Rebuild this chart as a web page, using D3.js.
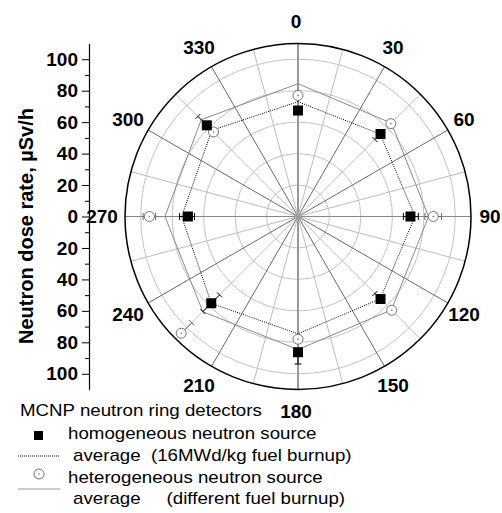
<!DOCTYPE html>
<html>
<head>
<meta charset="utf-8">
<script src="https://cdn.jsdelivr.net/npm/d3@7"></script>
<style>
  body { margin: 0; background: #fff; }
  svg { display: block; font-family: "Liberation Sans", Arial, sans-serif; }
  .pre { white-space: pre; }
</style>
</head>
<body>
<div class="chart"></div>
<script>
// detector angles (deg, clockwise from top)
var angles = [0, 45, 90, 135, 180, 225, 270, 315];

// homogeneous neutron source, uSv/h
var homValues = [67.4, 74.2, 71.5, 74.2, 86.3, 78, 70, 82];
var homErrLow = [1.5, 5, 4.5, 5, 0, 7.5, 4.2, 0];
var homErrHigh = [1.5, 0, 5, 0, 7.5, 7.5, 5.3, 8];
var homAverage = [73, 74, 74.4, 74, 74.6, 78, 74, 77.5];

// heterogeneous neutron source, uSv/h
var hetValues = [77, 83.5, 86, 84.3, 78, 105, 94.5, 76];
var hetErrLow = [1, 1, 5.3, 1, 1, 9.5, 4, 2.5];
var hetErrHigh = [1, 1, 5.3, 1, 1, 0, 4, 0];
var hetAverage = [84.4, 84, 83, 84, 84.6, 85.6, 84.6, 87];

var radialTicks = [0, 20, 40, 60, 80, 100];
var angleTicks = d3.range(0, 360, 30);
var spokeAngles = d3.range(0, 360, 15);

var legendItems = [
    'homogeneous neutron source',
    'average  (16MWd/kg fuel burnup)',
    'heterogeneous neutron source',
    'average     (different fuel burnup)'
];

var width = 502, height = 513;
var cx = 298, cy = 216.5, R = 173;
var axisX = 89;

var svg = d3.select('.chart')
    .append('svg')
    .attr('width', width)
    .attr('height', height);

var r = d3.scaleLinear().domain([0, 110]).range([0, R]);
var rad = function(a) { return a * Math.PI / 180 };
var px = function(a, v) { return cx + r(v) * Math.sin(rad(a)) };
var py = function(a, v) { return cy - r(v) * Math.cos(rad(a)) };

var plot = svg.append('g');

// grid circles
plot.selectAll('.ring')
    .data(radialTicks.filter(function(d) { return d > 0 }))
    .enter().append('circle')
    .attr('cx', cx).attr('cy', cy)
    .attr('r', function(d) { return r(d) })
    .attr('fill', 'none')
    .attr('stroke', '#c4c4c4')
    .attr('stroke-width', 1);

// spokes
plot.selectAll('.spoke')
    .data(spokeAngles)
    .enter().append('line')
    .attr('x1', cx).attr('y1', cy)
    .attr('x2', function(d) { return px(d, 110) })
    .attr('y2', function(d) { return py(d, 110) })
    .attr('stroke', function(d) {
        if (d % 180 === 0) return '#999';
        if (d % 90 === 0) return '#888';
        return d % 30 === 0 ? '#6a6a6a' : '#bdbdbd';
    })
    .attr('stroke-width', function(d) { return d % 180 === 0 ? 2 : 1 });

// outer circle
plot.append('circle')
    .attr('cx', cx).attr('cy', cy).attr('r', r(110))
    .attr('fill', 'none')
    .attr('stroke', '#000')
    .attr('stroke-width', 1.5);

// angle labels
plot.selectAll('.alabel')
    .data(angleTicks)
    .enter().append('text')
    .attr('x', function(d) { return cx - 2 + 194 * Math.sin(rad(d)) })
    .attr('y', function(d) { return cy - 195 * Math.cos(rad(d)) })
    .attr('text-anchor', 'middle')
    .attr('dominant-baseline', 'central')
    .attr('font-size', 19)
    .attr('font-weight', 'bold')
    .text(function(d) { return d });

// radial axis on the left, mirrored around 0
var yAxisScale = d3.scaleLinear().domain([-110, 110]).range([cy + R, cy - R]);

svg.append('g')
    .attr('transform', 'translate(' + axisX + ',0)')
    .call(d3.axisLeft(yAxisScale)
        .tickValues(d3.range(-100, 101, 10).filter(function(d) { return d % 20 !== 0 }))
        .tickSize(4)
        .tickFormat(''))
    .call(function(g) { g.select('.domain').remove() })
    .selectAll('line').attr('stroke', '#000');

var yAxis = svg.append('g')
    .attr('transform', 'translate(' + axisX + ',0)')
    .call(d3.axisLeft(yAxisScale)
        .tickValues(d3.range(-100, 101, 20))
        .tickSize(7)
        .tickSizeOuter(0)
        .tickPadding(4)
        .tickFormat(function(d) { return Math.abs(d) }));
yAxis.select('.domain').attr('stroke', '#000').attr('stroke-width', 1.2);
yAxis.selectAll('text')
    .attr('font-size', 19)
    .attr('font-weight', 'bold')
    .attr('font-family', '"Liberation Sans", Arial, sans-serif')
    .attr('fill', '#000');

svg.append('text')
    .attr('transform', 'translate(33,' + 226 + ') rotate(-90)')
    .attr('text-anchor', 'middle')
    .attr('font-size', 20)
    .attr('font-weight', 'bold')
    .text('Neutron dose rate, \u00b5Sv/h');

// average polygons
var radial = d3.lineRadial()
    .angle(function(d) { return rad(d[0]) })
    .radius(function(d) { return r(d[1]) })
    .curve(d3.curveLinearClosed);

var series = plot.append('g').attr('transform', 'translate(' + cx + ',' + cy + ')');

series.append('path')
    .attr('d', radial(d3.zip(angles, hetAverage)))
    .attr('fill', 'none')
    .attr('stroke', '#8a8a8a')
    .attr('stroke-width', 1);

series.append('path')
    .attr('d', radial(d3.zip(angles, homAverage)))
    .attr('fill', 'none')
    .attr('stroke', '#000')
    .attr('stroke-width', 1)
    .attr('stroke-dasharray', '1,1.2');

// radial error bars
function errorBars(values, lo, hi, color) {
    var g = plot.append('g');
    angles.forEach(function(a, i) {
        var v0 = values[i] - lo[i], v1 = values[i] + hi[i];
        g.append('line')
            .attr('x1', px(a, v0)).attr('y1', py(a, v0))
            .attr('x2', px(a, v1)).attr('y2', py(a, v1))
            .attr('stroke', color).attr('stroke-width', 1);
        [[v0, lo[i]], [v1, hi[i]]].forEach(function(e) {
            if (e[1] < 2) return;
            var x = px(a, e[0]), y = py(a, e[0]);
            var dx = 3.5 * Math.cos(rad(a)), dy = 3.5 * Math.sin(rad(a));
            g.append('line')
                .attr('x1', x - dx).attr('y1', y - dy)
                .attr('x2', x + dx).attr('y2', y + dy)
                .attr('stroke', color).attr('stroke-width', 1);
        });
    });
}
errorBars(hetValues, hetErrLow, hetErrHigh, '#666');
errorBars(homValues, homErrLow, homErrHigh, '#000');

// heterogeneous markers
function hollowCircle(g, x, y) {
    g.append('circle').attr('cx', x).attr('cy', y).attr('r', 5)
        .attr('fill', '#fff').attr('stroke', '#777').attr('stroke-width', 1);
    g.append('circle').attr('cx', x).attr('cy', y).attr('r', 0.8).attr('fill', '#777');
}
var hetG = plot.append('g');
angles.forEach(function(a, i) { hollowCircle(hetG, px(a, hetValues[i]), py(a, hetValues[i])) });

// homogeneous markers
plot.selectAll('.hom')
    .data(angles)
    .enter().append('rect')
    .attr('x', function(d, i) { return px(d, homValues[i]) - 5 })
    .attr('y', function(d, i) { return py(d, homValues[i]) - 5 })
    .attr('width', 10).attr('height', 10)
    .attr('fill', '#000');

// legend
var legend = svg.append('g');
var stretch = 1.1;

function addText(x, y, s) {
    var t = legend.append('text')
        .attr('class', 'pre')
        .attr('x', x).attr('y', y)
        .attr('font-size', 17)
        .text(s);
    var w = t.node().getComputedTextLength();
    t.attr('textLength', w * stretch).attr('lengthAdjust', 'spacingAndGlyphs');
}

addText(20, 416, 'MCNP neutron ring detectors');

legend.append('rect').attr('x', 34).attr('y', 431).attr('width', 9).attr('height', 9).attr('fill', '#000');
addText(68, 439, legendItems[0]);

legend.append('line').attr('x1', 18).attr('x2', 60).attr('y1', 456).attr('y2', 456)
    .attr('stroke', '#000').attr('stroke-width', 1).attr('stroke-dasharray', '1,1');
addText(73, 461, legendItems[1]);

hollowCircle(legend, 39, 474);
addText(68, 483, legendItems[2]);

legend.append('line').attr('x1', 18).attr('x2', 60).attr('y1', 489).attr('y2', 489)
    .attr('stroke', '#999').attr('stroke-width', 1);
addText(73, 504, legendItems[3]);
</script>
</body>
</html>
